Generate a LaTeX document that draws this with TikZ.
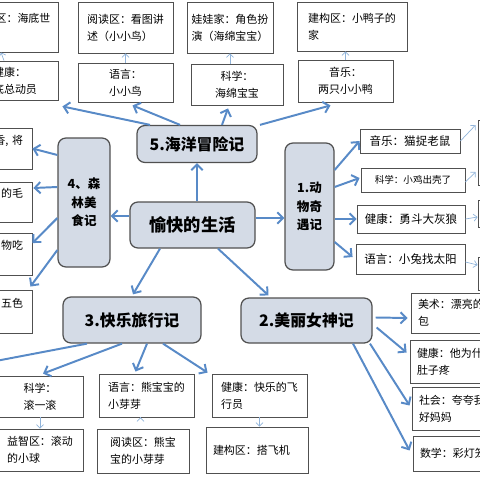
\documentclass[tikz,border=0pt]{standalone}
\usepackage{fontspec}
\setmainfont{Noto Sans CJK SC}
\usepackage{xcolor}
\usetikzlibrary{arrows.meta, positioning, calc}

\definecolor{arrblue}{RGB}{88,138,199}
\definecolor{thinblue}{RGB}{145,180,218}
\definecolor{mainfill}{RGB}{212,219,230}
\definecolor{boxline}{RGB}{80,80,80}

\begin{document}
\begin{tikzpicture}[x=0.25mm, y=-0.25mm, % one unit = one pixel of the sheet
    box/.style={draw=boxline, line width=0.6pt, fill=white, inner sep=0pt, font=\fontsize{7.8}{12}\selectfont},
    mainbox/.style={draw=boxline, line width=0.9pt, fill=mainfill, rounded corners=2mm, inner sep=0pt, font=\bfseries\fontsize{11.3}{14}\selectfont},
    tallbox/.style={mainbox, align=center, font=\bfseries\fontsize{8.9}{13}\selectfont},
    arr/.style={draw=arrblue, line width=1.4pt, -{Straight Barb[length=4pt,width=8pt]}},
    thinarr/.style={draw=thinblue, line width=0.5pt, -{Straight Barb[length=2.5pt,width=5pt]}}]
  \useasboundingbox (0,0) rectangle (480,480);
  \clip (0,0) rectangle (480,480);

  % main topics
  \node[mainbox, minimum width=31.25mm, minimum height=11.5mm, font=\bfseries\fontsize{12.3}{14}\selectfont] (life) at (192.5,225) {愉快的生活\hspace{2mm}};
  \node[mainbox, minimum width=30mm, minimum height=9.25mm] (sea) at (197,144) {5.海洋冒险记};
  \node[tallbox, minimum width=12.25mm, minimum height=31.75mm] (animal) at (309.5,206.5) {1.动\\物奇\\遇记};
  \node[tallbox, minimum width=13mm, minimum height=32.25mm] (forest) at (84,202.5) {4、森\\林美\\食记};
  \node[mainbox, minimum width=34.5mm, minimum height=11.5mm] (trip) at (132,320) {3.快乐旅行记};
  \node[mainbox, minimum width=32.75mm, minimum height=11.25mm] (goddess) at (306.5,320.5) {2.美丽女神记};

  % 5. sea
  \node[box, align=left, minimum width=17.5mm, minimum height=12.5mm] (seaA1) at (23,27) {区：海底世\\ \phantom{区}};
  \node[box, align=left, minimum width=23.75mm, minimum height=12.75mm] (seaA2) at (125.5,27.5) {阅读区：看图讲\\述（小小鸟）};
  \node[box, align=left, minimum width=21.5mm, minimum height=12.75mm] (seaA3) at (230,27.5) {娃娃家：角色扮\\演（海绵宝宝）};
  \node[box, align=left, minimum width=27.5mm, minimum height=12.25mm] (seaA4) at (352,26.5) {建构区：小鸭子的\\家};
  \node[box, align=left, minimum width=21.5mm, minimum height=9.75mm] (seaB1) at (15,80.5) {健康：\\底总动员};
  \node[box, align=center, minimum width=23.75mm, minimum height=9.75mm] (seaB2) at (125.5,82.5) {语言：\\小小鸟};
  \node[box, align=center, minimum width=23mm, minimum height=10.25mm] (seaB3) at (237,84.5) {科学：\\海绵宝宝};
  \node[box, align=center, minimum width=23.75mm, minimum height=10.5mm] (seaB4) at (345.5,81) {音乐：\\两只小小鸭};

  % 1. animals
  \node[box, minimum width=25mm, minimum height=6mm, font=\fontsize{8.2}{12}\selectfont] (aniR1) at (410,141) {音乐：猫捉老鼠};
  \node[box, minimum width=26mm, minimum height=6mm, font=\fontsize{6.8}{10}\selectfont] (aniR2) at (413,180) {科学：小鸡出壳了};
  \node[box, minimum width=27mm, minimum height=7mm, font=\fontsize{8.2}{12}\selectfont] (aniR3) at (411,219) {健康：勇斗大灰狼};
  \node[box, minimum width=27.25mm, minimum height=7.5mm, font=\fontsize{8.2}{12}\selectfont] (aniR4) at (410.5,259) {语言：小兔找太阳};
  \node[box, minimum width=16mm, minimum height=16.25mm] (aniX1) at (510,152.5) {};
  \node[box, minimum width=16mm, minimum height=6.75mm] (aniX2) at (510,213.5) {};
  \node[box, minimum width=16mm, minimum height=8.25mm] (aniX3) at (510,273.5) {};

  % 4. forest
  \node[box, align=right, text width=18.5mm, minimum width=23mm, minimum height=10.25mm] (forL1) at (-14,148.5) {香, 将\\ \phantom{香}};
  \node[box, align=right, text width=18.5mm, minimum width=23mm, minimum height=10mm] (forL2) at (-14,202) {的毛\\ \phantom{香}};
  \node[box, align=right, text width=18.5mm, minimum width=23mm, minimum height=10.5mm] (forL3) at (-14,254) {物吃\\ \phantom{香}};
  \node[box, align=right, text width=18.5mm, minimum width=23mm, minimum height=10.75mm] (forL4) at (-14,311.5) {五色\\ \phantom{香}};

  % 3. trip
  \node[box, align=center, minimum width=21.5mm, minimum height=10.25mm] (tripD1) at (40,396.5) {科学：\\滚一滚};
  \node[box, align=left, minimum width=23.75mm, minimum height=10.75mm] (tripD2) at (146.5,395.5) {语言：熊宝宝的\\小芽芽};
  \node[box, align=left, minimum width=23.75mm, minimum height=10.75mm] (tripD3) at (259.5,395.5) {健康：快乐的飞\\行员};
  \node[box, align=left, minimum width=21.5mm, minimum height=10.5mm] (tripE1) at (40,450) {益智区：滚动\\的小球};
  \node[box, align=left, minimum width=23mm, minimum height=11mm] (tripE2) at (143,451) {阅读区：熊宝\\宝的小芽芽};
  \node[box, align=left, text width=22mm, minimum width=25.5mm, minimum height=11.5mm] (tripE3) at (257,450) {建构区：搭飞机};
  \coordinate (tripOff) at (-20,364);

  % 2. goddess
  \node[box, align=left, text width=24mm, minimum width=27.5mm, minimum height=10mm] (godF1) at (466,313) {美术：漂亮的\\包};
  \node[box, align=left, text width=24mm, minimum width=27.5mm, minimum height=10.75mm] (godF2) at (465,361.5) {健康：他为什么\\肚子疼};
  \node[box, align=left, text width=24mm, minimum width=27.5mm, minimum height=10.75mm] (godF3) at (467,408.5) {社会：夸夸我\\好妈妈};
  \node[box, align=left, text width=24mm, minimum width=27.5mm, minimum height=8.75mm] (godF4) at (468,453.5) {数学：彩灯笼};

  % links from the centre
  \draw[arr] (life.north -| sea.south) -- (sea.south);
  \draw[arr] ($(life.east)+(0,-7)$) -- ($(animal.west)+(0,11.5)$);
  \draw[arr] ($(life.west)+(0,-9)$) -- ($(forest.east)+(0,13.5)$);
  \draw[arr] ($(life.south)+(-32.5,0)$) -- ($(trip.north)+(1,-2)$);
  \draw[arr] ($(life.south)+(25.5,0)$) -- ($(goddess.north)+(-38,-2)$);

  % links from 5
  \draw[arr] ($(sea.north)+(-47,0)$) -- ($(seaB1.south east)+(4,6)$);
  \draw[arr] ($(sea.north)+(-17,0)$) -- ($(seaB2.south)+(7,3)$);
  \draw[arr] ($(sea.north)+(25,0)$) -- ($(seaB3.south)+(-9,3)$);
  \draw[arr] ($(sea.north)+(63,0)$) -- ($(seaB4.south)+(-15,3)$);
  \draw[thinarr] ($(seaB1.north)+(-11,0)$) -- ($(seaA1.south)+(-22,0)$);
  \draw[thinarr] (seaB2.north) -- (seaA2.south);
  \draw[thinarr] (seaA3.south |- seaB3.north) -- (seaA3.south);
  \draw[thinarr] (seaB4.north) -- (seaB4.north |- seaA4.south);

  % links from 1
  \draw[arr] ($(animal.east)+(0,-36.5)$) -- (aniR1.west);
  \draw[arr] ($(animal.east)+(0,-19.5)$) -- ($(aniR2.west)+(-1,-2)$);
  \draw[arr] ($(animal.east)+(0,12.5)$) -- (aniR3.west);
  \draw[arr] ($(animal.east)+(0,35.5)$) -- ($(aniR4.west)+(-3,-2)$);
  \draw[thinarr] (aniR1.east) -- ($(aniX1.west)+(-2,-27.5)$);
  \draw[thinarr] ($(aniR2.east)+(0,2)$) -- ($(aniX1.west)+(-2,19.5)$);
  \draw[thinarr] (aniR3.east) -- ($(aniX2.west)+(0,3.5)$);
  \draw[thinarr] ($(aniR4.east)+(0,3)$) -- ($(aniX3.west)+(0,-8.5)$);

  % links from 4
  \draw[arr] ($(forest.west)+(0,-47.5)$) -- (forL1.east);
  \draw[arr] ($(forest.west)+(0,-15.5)$) -- ($(forL2.east)+(1,-14)$);
  \draw[arr] ($(forest.west)+(0,15.5)$) -- ($(forL3.east)+(0,-11)$);
  \draw[arr] ($(forest.west)+(0,47.5)$) -- ($(forL4.north east)+(-2,-3)$);

  % links from 3
  \draw[arr] ($(trip.south)+(-45,0)$) -- (tripOff);
  \draw[arr] ($(trip.south)+(-10,0)$) -- ($(tripD1.north)+(3,-2)$);
  \draw[arr] ($(trip.south)+(15,0)$) -- ($(tripD2.north)+(-11,-2)$);
  \draw[arr] ($(trip.south)+(31,0)$) -- ($(tripD3.north west)+(-4,-1)$);
  \draw[thinarr] (tripD1.south) -- (tripE1.north);
  \draw[thinarr] ($(tripD2.south)+(-6,0)$) -- ($(tripD2.south)+(-6,0)$ |- tripE2.north);
  \draw[thinarr] (tripD3.south) -- (tripD3.south |- tripE3.north);

  % links from 2
  \draw[arr] ($(goddess.east)+(3,-3)$) -- ($(godF1.west)+(-3,5)$);
  \draw[arr] ($(goddess.east)+(4,7)$) -- ($(godF2.west)+(-3,-9)$);
  \draw[arr] ($(goddess.south)+(63.5,0)$) -- ($(godF3.west)+(-2,-3)$);
  \draw[arr] ($(goddess.south)+(46.5,0)$) -- ($(godF4.west)+(-3,-3)$);
\end{tikzpicture}
\end{document}
